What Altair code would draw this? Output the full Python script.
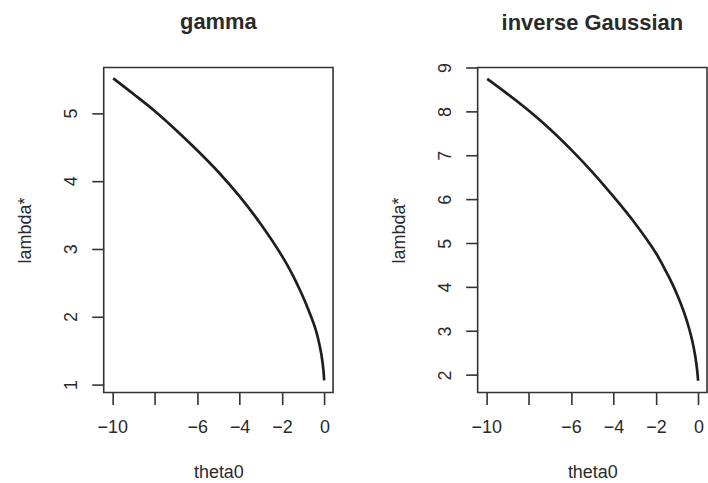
import altair as alt
import pandas as pd

# gamma panel
gamma_theta = [-9.95, -9.0, -8.0, -7.0, -6.0, -5.0, -4.0, -3.0, -2.0, -1.5, -1.25, -1.0,
               -0.8, -0.6, -0.45, -0.3, -0.15, -0.05, -0.02]
gamma_lambda = [5.51, 5.28, 5.03, 4.75, 4.45, 4.13, 3.77, 3.36, 2.89, 2.61, 2.45, 2.28,
                2.13, 1.97, 1.84, 1.67, 1.44, 1.20, 1.06]

# inverse Gaussian panel
ig_theta = [-9.95, -9.0, -8.0, -7.0, -6.0, -5.0, -4.0, -3.0, -2.0, -1.5, -1.25, -1.0,
            -0.8, -0.6, -0.45, -0.3, -0.15, -0.05, -0.02]
ig_lambda = [8.74, 8.40, 8.02, 7.60, 7.13, 6.62, 6.06, 5.46, 4.77, 4.33, 4.09, 3.82,
             3.58, 3.31, 3.07, 2.79, 2.42, 2.05, 1.87]

x_ticks = [-10, -8, -6, -4, -2, 0]
gamma_yticks = [1, 2, 3, 4, 5]
ig_yticks = [2, 3, 4, 5, 6, 7, 8, 9]

FONT = "Liberation Sans"
INK = "#2a2a2a"
W, H = 230, 326


def panel(theta, lam, title, ydomain, yticks, offset):
    df = pd.DataFrame({"theta": theta, "lam": lam})
    return (
        alt.Chart(df)
        .mark_line(color="#1e1e1e", strokeWidth=2.7, interpolate="catmull-rom")
        .encode(
            x=alt.X(
                "theta:Q",
                scale=alt.Scale(domain=[-10.4, 0.4], nice=False, zero=False),
                axis=alt.Axis(
                    values=x_ticks,
                    labelExpr="datum.value == -8 ? '' : datum.label",
                    title="theta0",
                    titleX=W / 2,
                    titleY=85,
                    titleAlign="center",
                    titleBaseline="alphabetic",
                    labelPadding=14,
                    labelFlush=False,
                    labelOverlap=False,
                ),
            ),
            y=alt.Y(
                "lam:Q",
                scale=alt.Scale(domain=ydomain, nice=False, zero=False),
                axis=alt.Axis(
                    values=yticks,
                    title="lambda*",
                    labelAngle=-90,
                    labelAlign="center",
                    labelBaseline="alphabetic",
                    labelPadding=15,
                    labelOverlap=False,
                    titleAngle=-90,
                    titleX=-73,
                    titleY=H / 2,
                    titleAlign="center",
                    titleBaseline="alphabetic",
                ),
            ),
        )
        .properties(
            width=W,
            height=H,
            title=alt.TitleParams(
                title,
                frame="group",
                anchor="middle",
                baseline="alphabetic",
                offset=offset,
                font=FONT,
                fontSize=22,
                fontWeight="bold",
                color=INK,
            ),
        )
    )


left = panel(gamma_theta, gamma_lambda, "gamma", [0.88, 5.67], gamma_yticks, 17)
right = panel(ig_theta, ig_lambda, "inverse Gaussian", [1.6, 9.0], ig_yticks, 11)

chart = (
    alt.hconcat(left, right, spacing=56)
    .properties(padding={"left": 16, "top": 9, "right": 0, "bottom": 0}, background="white")
    .configure_view(stroke="#333333", strokeWidth=1.6)
    .configure_axis(
        domain=False,
        grid=False,
        ticks=True,
        tickSize=12,
        tickWidth=1.6,
        tickColor="#333333",
        labelFont=FONT,
        labelFontSize=18,
        labelColor=INK,
        titleFont=FONT,
        titleFontSize=18,
        titleFontWeight="normal",
        titleColor=INK,
    )
)

chart.save("out.html", embed_options={"renderer": "svg", "actions": False})
